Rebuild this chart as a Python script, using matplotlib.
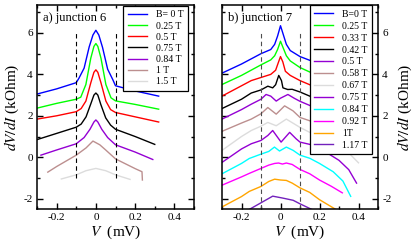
import matplotlib
matplotlib.use("Agg")
import matplotlib.pyplot as plt
from matplotlib.ticker import MultipleLocator

plt.rcParams['font.family'] = ['Liberation Serif', 'DejaVu Serif']
plt.rcParams['mathtext.fontset'] = 'stix'
plt.rcParams['axes.unicode_minus'] = False

# ---------------- panel a) junction 6 ----------------
labels_a = ["B= 0 T", "0.25 T", "0.5 T", "0.75 T", "0.84 T", "1 T", "1.5 T"]
colors_a = ["#0000ff", "#00ff00", "#ff0000", "#000000", "#9400d3", "#bc8f8f", "#dcdcdc"]

v_a0 = [-0.3, -0.2, -0.1, -0.086, -0.06, -0.034, -0.015, 0, 0.015, 0.034, 0.06, 0.086, 0.1, 0.2, 0.32]
g_a0 = [3.05, 3.3, 3.6, 3.82, 4.3, 5.33, 5.9, 6.13, 5.9, 5.3, 4.25, 3.75, 3.45, 3.2, 2.95]
v_a1 = [-0.3, -0.2, -0.1, -0.077, -0.051, -0.026, -0.01, 0, 0.01, 0.026, 0.051, 0.077, 0.1, 0.2, 0.32]
g_a1 = [2.37, 2.6, 2.8, 2.9, 3.51, 4.78, 5.35, 5.49, 5.35, 4.78, 3.51, 2.87, 2.72, 2.55, 2.32]
v_a2 = [-0.3, -0.2, -0.1, -0.075, -0.051, -0.026, -0.01, 0, 0.01, 0.026, 0.051, 0.075, 0.1, 0.2, 0.32]
g_a2 = [1.84, 2.0, 2.2, 2.35, 2.71, 3.59, 4.1, 4.22, 4.1, 3.59, 2.71, 2.3, 2.16, 1.95, 1.7]
v_a3 = [-0.3, -0.2, -0.1, -0.075, -0.05, -0.025, -0.01, 0, 0.01, 0.025, 0.05, 0.075, 0.1, 0.2, 0.3]
g_a3 = [0.85, 1.15, 1.45, 1.6, 1.95, 2.6, 3.0, 3.1, 3.0, 2.55, 1.9, 1.55, 1.35, 1.0, 0.62]
v_a4 = [-0.28, -0.2, -0.1, -0.06, -0.03, -0.01, 0, 0.01, 0.03, 0.06, 0.1, 0.2, 0.29]
g_a4 = [0.1, 0.35, 0.65, 0.95, 1.35, 1.7, 1.8, 1.7, 1.35, 0.95, 0.6, 0.25, -0.11]
v_a5 = [-0.245, -0.2, -0.1, -0.05, -0.015, 0.02, 0.05, 0.1, 0.2, 0.235, 0.237]
g_a5 = [-0.72, -0.45, 0.1, 0.45, 0.78, 0.6, 0.35, -0.08, -0.55, -0.7, -1.1]
v_a6 = [-0.176, -0.1, -0.05, 0, 0.05, 0.1, 0.174]
g_a6 = [-1.05, -0.85, -0.65, -0.54, -0.65, -0.85, -1.07]

# ---------------- panel b) junction 7 ----------------
labels_b = ["B=0 T", "0.25 T", "0.33 T", "0.42 T", "0.5 T", "0.58 T", "0.67 T",
            "0.75 T", "0.84 T", "0.92 T", "1T", "1.17 T"]
colors_b = ["#0000ff", "#00ff00", "#ff0000", "#000000", "#9400d3", "#bc8f8f", "#dcdcdc",
            "#9400d3", "#00ffff", "#ff00ff", "#ffa500", "#7221bc"]

v_b0 = [-0.3, -0.2, -0.1, -0.05, -0.03, -0.015, 0, 0.015, 0.03, 0.05, 0.1, 0.2, 0.3]
g_b0 = [4.06, 4.5, 5.0, 5.2, 5.45, 5.85, 6.35, 5.9, 5.45, 5.15, 4.86, 4.5, 4.0]
v_b1 = [-0.3, -0.2, -0.1, -0.05, -0.03, -0.015, 0, 0.015, 0.03, 0.05, 0.1, 0.2, 0.3]
g_b1 = [3.51, 3.95, 4.46, 4.7, 4.9, 5.2, 5.6, 5.25, 4.9, 4.65, 4.33, 3.9, 3.4]
v_b2 = [-0.3, -0.2, -0.15, -0.1, -0.05, -0.025, -0.01, 0, 0.012, 0.025, 0.05, 0.1, 0.2, 0.3]
g_b2 = [2.95, 3.45, 3.7, 3.85, 4.0, 4.2, 4.6, 4.86, 4.6, 4.15, 3.95, 3.7, 3.3, 2.8]
v_b3 = [-0.3, -0.2, -0.15, -0.1, -0.065, -0.04, -0.025, -0.009, 0.005, 0.0125, 0.037, 0.06, 0.1, 0.2, 0.3]
g_b3 = [2.35, 2.8, 3.1, 3.25, 3.43, 3.35, 3.5, 3.95, 3.7, 3.35, 3.27, 3.28, 3.15, 2.75, 2.2]
v_b4 = [-0.3, -0.2, -0.15, -0.1, -0.074, -0.05, -0.022, 0.0, 0.038, 0.07, 0.1, 0.2, 0.3]
g_b4 = [1.84, 2.3, 2.56, 2.8, 3.03, 2.95, 2.71, 2.85, 3.03, 2.85, 2.7, 2.3, 1.7]
v_b5 = [-0.3, -0.2, -0.15, -0.1, -0.065, -0.022, 0.021, 0.064, 0.1, 0.15, 0.2, 0.3]
g_b5 = [1.25, 1.65, 1.84, 2.1, 2.4, 2.08, 2.48, 2.24, 1.92, 1.76, 1.5, 0.9]
v_b6 = [-0.3, -0.2, -0.15, -0.1, -0.065, -0.022, 0.03, 0.1, 0.15, 0.25, 0.33, 0.4]
g_b6 = [0.33, 1.0, 1.29, 1.5, 1.68, 1.52, 1.84, 1.44, 1.2, 0.85, 0.4, -0.27]
v_b7 = [-0.3, -0.2, -0.15, -0.1, -0.065, -0.04, 0.003, 0.047, 0.08, 0.1, 0.15, 0.21, 0.3, 0.35, 0.39]
g_b7 = [-0.25, 0.4, 0.65, 0.81, 1.05, 1.29, 0.73, 1.2, 0.89, 0.73, 0.62, 0.38, -0.15, -0.6, -1.25]
v_b8 = [-0.3, -0.2, -0.16, -0.1, -0.06, -0.031, -0.005, 0.03, 0.065, 0.1, 0.15, 0.2, 0.27, 0.32, 0.36]
g_b8 = [-0.8, -0.3, -0.06, 0.15, 0.28, 0.49, 0.3, 0.49, 0.33, 0.1, -0.05, -0.3, -0.7, -1.15, -1.89]
v_b9 = [-0.3, -0.2, -0.16, -0.1, -0.06, -0.03, -0.01, 0.01, 0.03, 0.06, 0.1, 0.15, 0.2, 0.26, 0.317]
g_b9 = [-1.35, -0.95, -0.78, -0.54, -0.38, -0.3, -0.28, -0.33, -0.28, -0.35, -0.59, -0.8, -1.1, -1.4, -1.72]
v_b10 = [-0.3, -0.2, -0.16, -0.1, -0.06, -0.03, 0.0, 0.03, 0.06, 0.1, 0.15, 0.2, 0.28]
g_b10 = [-2.4, -1.9, -1.65, -1.41, -1.17, -1.06, -1.1, -1.12, -1.25, -1.48, -1.7, -2.05, -2.5]
v_b11 = [-0.16, -0.1, -0.04, 0.01, 0.065, 0.1, 0.16]
g_b11 = [-2.52, -2.2, -1.88, -1.97, -2.08, -2.25, -2.52]

curves_a = [(v_a0, g_a0), (v_a1, g_a1), (v_a2, g_a2), (v_a3, g_a3), (v_a4, g_a4), (v_a5, g_a5), (v_a6, g_a6)]
curves_b = [(v_b0, g_b0), (v_b1, g_b1), (v_b2, g_b2), (v_b3, g_b3), (v_b4, g_b4), (v_b5, g_b5),
            (v_b6, g_b6), (v_b7, g_b7), (v_b8, g_b8), (v_b9, g_b9), (v_b10, g_b10), (v_b11, g_b11)]

gap_v = [-0.1, 0.1]

fig = plt.figure(figsize=(4.15, 2.46), dpi=100)
ax1 = fig.add_axes([37/415, 1-209/246, 157/415, 204/246])
ax2 = fig.add_axes([222/415, 1-209/246, 156/415, 204/246])


def style(ax):
    ax.set_xlim(-0.3, 0.5)
    ax.set_ylim(-2.5, 7.35)
    ax.xaxis.set_major_locator(MultipleLocator(0.2))
    ax.xaxis.set_minor_locator(MultipleLocator(0.1))
    ax.yaxis.set_major_locator(MultipleLocator(2))
    ax.yaxis.set_minor_locator(MultipleLocator(1))
    ax.tick_params(which='both', direction='in', top=True, right=True, width=1.0, labelsize=8, pad=3)
    ax.tick_params(which='major', length=4.5)
    ax.tick_params(which='minor', length=2.3)
    for s in ax.spines.values():
        s.set_linewidth(1.1)
    ax.set_xticks([-0.2, 0, 0.2, 0.4])
    ax.set_xticklabels(["-0.2", "0", "0.2", "0.4"])
    ax.set_xlabel(r"$V$  (mV)", fontsize=11, labelpad=1)


style(ax1)
style(ax2)

for (v, g), c, lab in zip(curves_a, colors_a, labels_a):
    ax1.plot(v, g, color=c, lw=1.0, label=lab)
for xv in gap_v:
    ax1.plot([xv, xv], [-1.0, 6.0], color='k', lw=0.8, ls=(0, (4, 3)))
ax1.set_ylabel(r"$dV/dI$ (kOhm)", fontsize=11, labelpad=2)
ax1.text(-0.27, 6.7, "a) junction 6", fontsize=9, va='center', ha='left')
leg1 = ax1.legend(loc='upper right', bbox_to_anchor=(0.962, 0.995), borderaxespad=0,
                  fontsize=7, handlelength=2.0, labelspacing=0.22, handletextpad=0.9,
                  borderpad=0.45, fancybox=False, framealpha=1, edgecolor='k')
leg1.get_frame().set_linewidth(0.9)

for (v, g), c, lab in zip(curves_b, colors_b, labels_b):
    ax2.plot(v, g, color=c, lw=1.0, label=lab)
for xv in gap_v:
    ax2.plot([xv, xv], [-2.5, 6.0], color='0.3', lw=0.8, ls=(0, (4, 3)))
ax2.yaxis.set_label_position('right')
ax2.tick_params(labelleft=False, labelright=True)
ax2.set_ylabel(r"$dV/dI$ (kOhm)", fontsize=11, labelpad=3)
ax2.text(-0.27, 6.7, "b) junction 7", fontsize=9, va='center', ha='left')
leg2 = ax2.legend(loc='upper right', bbox_to_anchor=(0.962, 0.998), borderaxespad=0,
                  fontsize=7, handlelength=2.0, labelspacing=0.3, handletextpad=0.9,
                  borderpad=0.45, fancybox=False, framealpha=1, edgecolor='k')
leg2.get_frame().set_linewidth(0.9)

fig.savefig("out.png", dpi=100)
